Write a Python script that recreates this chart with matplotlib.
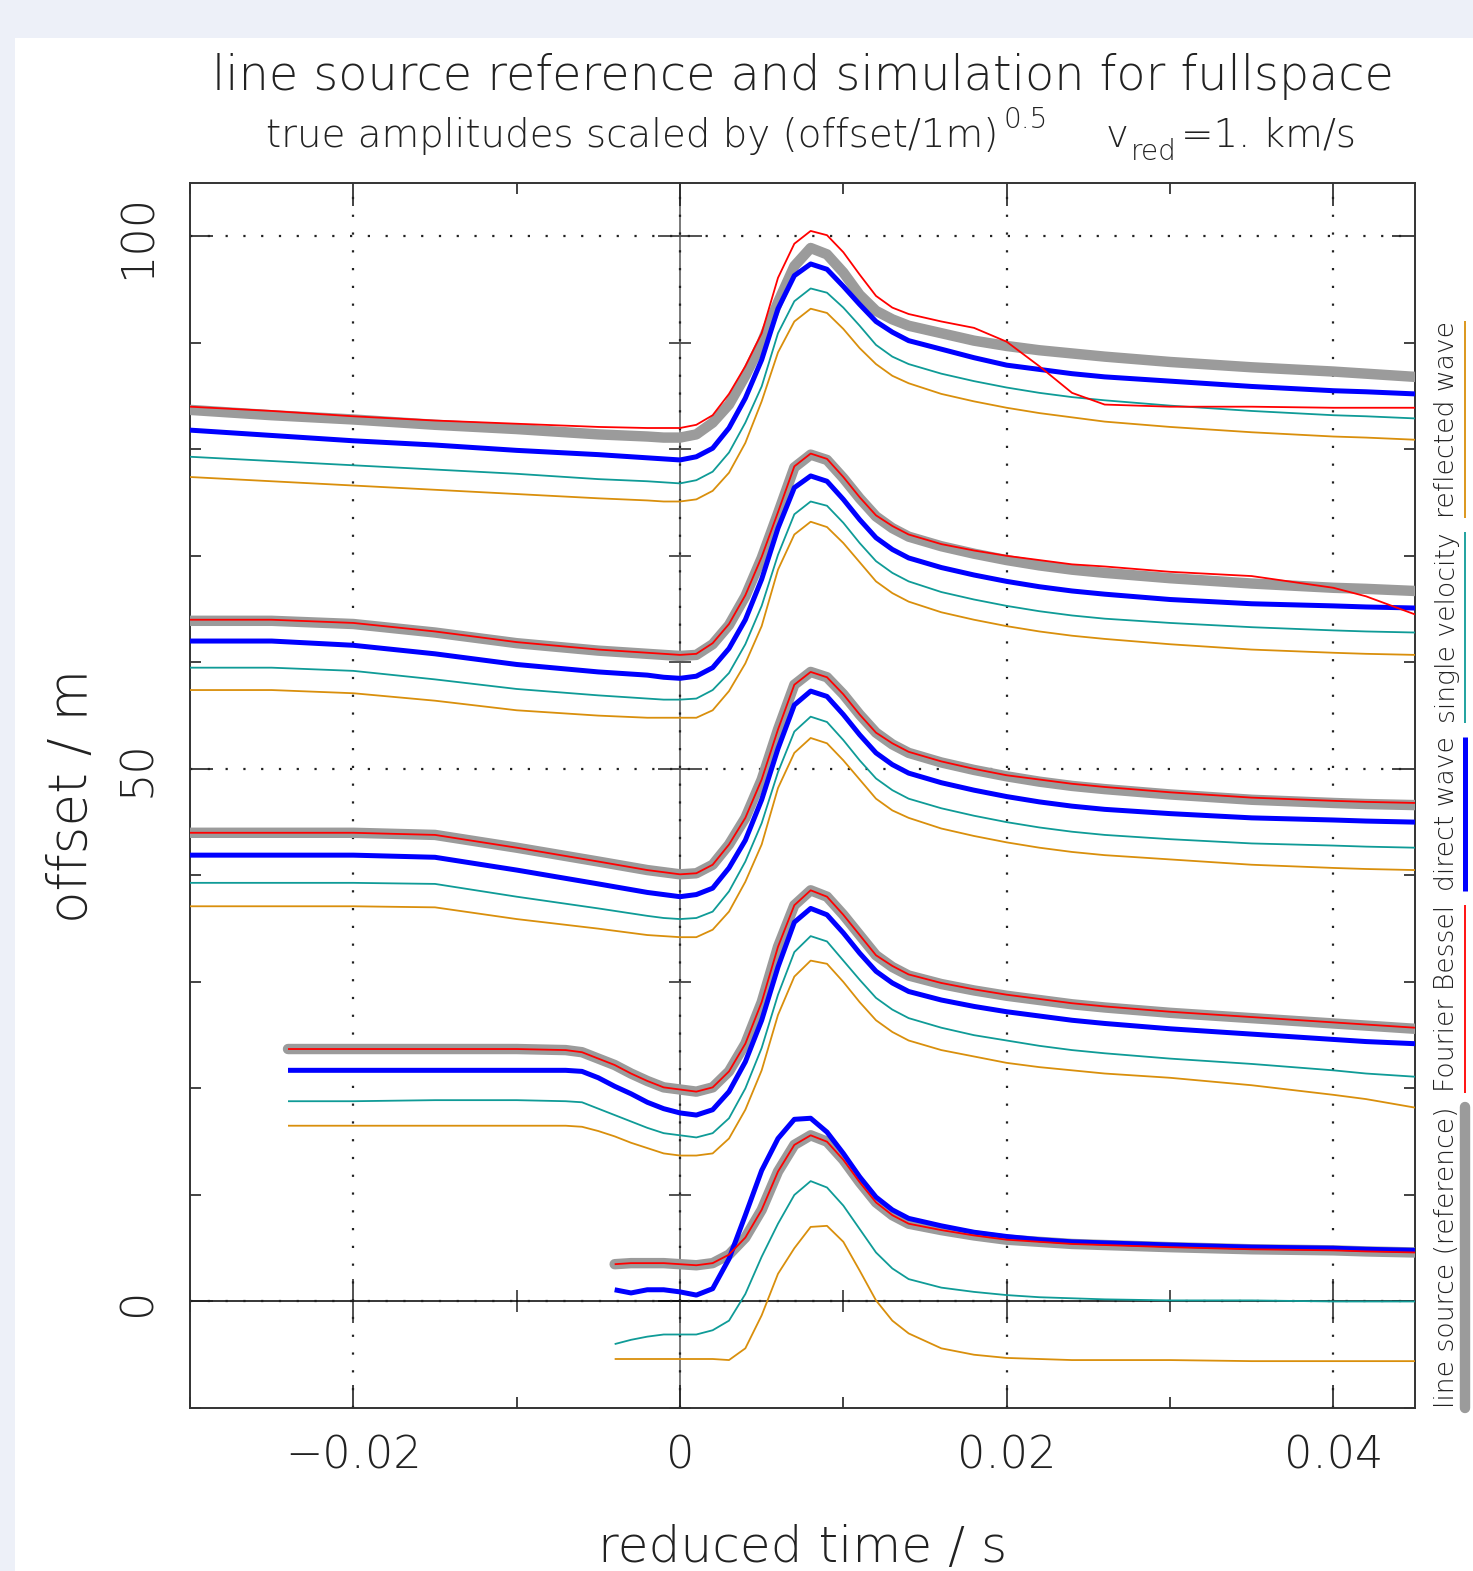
import os
import matplotlib
matplotlib.use('Agg')
import matplotlib.pyplot as plt
from matplotlib import font_manager as fm
from matplotlib.ticker import MultipleLocator, FixedLocator, FixedFormatter
from matplotlib.lines import Line2D
from matplotlib.patches import Rectangle

# ---------------- font choice: a thin, wide sans ----------------
def _has(pred):
    return any(pred(f) for f in fm.fontManager.ttflist)

def _base(f):
    return os.path.basename(f.fname)

if _has(lambda f: f.name == 'DejaVu Sans' and 'ExtraLight' in _base(f)):
    FAM, WGT = 'DejaVu Sans', 200
elif _has(lambda f: f.name == 'Open Sans' and 'Light' in _base(f) and 'Italic' not in _base(f)):
    FAM, WGT = 'Open Sans', 300
elif _has(lambda f: f.name == 'Roboto' and 'Light' in _base(f) and 'Italic' not in _base(f)):
    FAM, WGT = 'Roboto', 300
elif _has(lambda f: f.name == 'Lato' and 'Light' in _base(f) and 'Italic' not in _base(f)):
    FAM, WGT = 'Lato', 300
else:
    FAM, WGT = 'DejaVu Sans', 400

plt.rcParams['font.family'] = [FAM, 'DejaVu Sans']
plt.rcParams['font.weight'] = WGT
plt.rcParams['axes.labelweight'] = WGT
TXT = '#222222'

# ---------------- data ----------------
series_names = ['line source (reference)', 'Fourier Bessel', 'direct wave',
                'single velocity', 'reflected wave']

xticks = [-0.02, 0.0, 0.02, 0.04]
xticklabels = ['\u22120.02', '0', '0.02', '0.04']
yticks = [0, 50, 100]
yticklabels = ['0', '50', '100']

# time samples (s)
t_a = [-0.030, -0.025, -0.020, -0.015, -0.010, -0.005, -0.002, -0.001,
       0.000, 0.001, 0.002, 0.003, 0.004, 0.005, 0.006, 0.007, 0.008, 0.009,
       0.010, 0.011, 0.012, 0.013, 0.014,
       0.016, 0.018, 0.020, 0.022, 0.024, 0.026, 0.030, 0.035, 0.040, 0.042, 0.045]
t_4 = [-0.024, -0.020, -0.015, -0.010, -0.007, -0.006, -0.005, -0.004, -0.003, -0.002, -0.001,
       0.000, 0.001, 0.002, 0.003, 0.004, 0.005, 0.006, 0.007, 0.008, 0.009,
       0.010, 0.011, 0.012, 0.013, 0.014,
       0.016, 0.018, 0.020, 0.022, 0.024, 0.026, 0.030, 0.035, 0.040, 0.042, 0.045]
t_5 = [-0.004, -0.003, -0.002, -0.001,
       0.000, 0.001, 0.002, 0.003, 0.004, 0.005, 0.006, 0.007, 0.008, 0.009,
       0.010, 0.011, 0.012, 0.013, 0.014,
       0.016, 0.018, 0.020, 0.022, 0.024, 0.026, 0.030, 0.035, 0.040, 0.042, 0.045]

# trace 1
ref1 = [83.7, 83.2, 82.8, 82.3, 81.9, 81.4, 81.2, 81.1,
        81.1, 81.4, 82.5, 84.2, 86.9, 90.0, 93.8, 97.2, 98.9, 98.3, 96.6, 94.5, 93.0, 92.2, 91.6,
        90.9, 90.2, 89.7, 89.3, 89.0, 88.7, 88.2, 87.7, 87.3, 87.1, 86.8]
fb1 = [84.0, 83.6, 83.1, 82.7, 82.4, 82.1, 82.0, 82.0,
       82.0, 82.3, 83.2, 85.2, 87.8, 90.9, 96.1, 99.3, 100.5, 100.1, 98.5, 96.4, 94.4, 93.3, 92.7,
       92.0, 91.4, 90.1, 87.8, 85.3, 84.2, 84.0, 84.0, 83.9, 83.9, 83.9]
dw1 = [81.8, 81.3, 80.8, 80.4, 79.9, 79.5, 79.2, 79.1,
       79.0, 79.3, 80.1, 82.0, 84.8, 88.4, 93.2, 96.3, 97.4, 96.9, 95.3, 93.6, 92.0, 91.0, 90.2,
       89.4, 88.6, 87.9, 87.5, 87.1, 86.8, 86.4, 85.9, 85.5, 85.4, 85.2]
sv1 = [79.3, 78.9, 78.5, 78.1, 77.7, 77.2, 77.0, 76.9,
       76.8, 77.1, 77.9, 79.7, 82.5, 85.9, 90.9, 93.9, 95.1, 94.7, 93.3, 91.6, 89.8, 88.7, 88.0,
       87.1, 86.4, 85.8, 85.3, 84.9, 84.6, 84.1, 83.6, 83.2, 83.1, 82.9]
rw1 = [77.4, 77.0, 76.6, 76.2, 75.8, 75.4, 75.2, 75.1,
       75.1, 75.3, 76.1, 77.8, 80.6, 84.5, 89.1, 92.0, 93.2, 92.8, 91.3, 89.5, 88.0, 86.9, 86.2,
       85.2, 84.5, 83.9, 83.4, 83.0, 82.6, 82.1, 81.6, 81.2, 81.1, 80.9]

# trace 2
ref2 = [63.9, 63.9, 63.6, 62.8, 61.8, 61.1, 60.8, 60.7,
        60.6, 60.7, 61.7, 63.5, 66.2, 69.8, 74.0, 78.3, 79.5, 79.0, 77.3, 75.4, 73.7, 72.6, 71.8,
        70.9, 70.2, 69.6, 69.1, 68.7, 68.4, 67.9, 67.4, 67.0, 66.9, 66.7]
fb2 = [64.0, 64.0, 63.7, 62.9, 61.9, 61.2, 60.9, 60.8,
       60.7, 60.8, 61.8, 63.6, 66.3, 69.9, 74.1, 78.4, 79.6, 79.1, 77.4, 75.5, 73.8, 72.8, 72.0,
       71.1, 70.5, 70.0, 69.6, 69.2, 69.0, 68.5, 68.1, 67.0, 66.2, 64.5]
dw2 = [62.0, 62.0, 61.6, 60.8, 59.8, 59.1, 58.8, 58.6,
       58.5, 58.7, 59.5, 61.3, 64.0, 67.8, 72.6, 76.4, 77.5, 77.0, 75.3, 73.4, 71.7, 70.6, 69.8,
       68.9, 68.2, 67.6, 67.1, 66.7, 66.4, 65.9, 65.5, 65.3, 65.2, 65.1]
sv2 = [59.5, 59.5, 59.2, 58.4, 57.5, 56.9, 56.6, 56.5,
       56.5, 56.6, 57.4, 59.0, 61.7, 65.3, 70.1, 73.9, 75.1, 74.7, 73.1, 71.2, 69.5, 68.4, 67.6,
       66.6, 65.9, 65.3, 64.8, 64.4, 64.1, 63.7, 63.3, 63.0, 62.9, 62.8]
rw2 = [57.4, 57.4, 57.1, 56.4, 55.5, 55.0, 54.8, 54.8,
       54.8, 54.8, 55.5, 57.3, 59.9, 63.4, 68.7, 72.0, 73.2, 72.7, 71.2, 69.4, 67.6, 66.5, 65.7,
       64.7, 64.0, 63.4, 62.9, 62.5, 62.2, 61.7, 61.2, 60.9, 60.8, 60.7]

# trace 3
ref3 = [44.0, 44.0, 44.0, 43.8, 42.6, 41.3, 40.5, 40.3,
        40.1, 40.2, 41.0, 42.9, 45.4, 49.0, 53.7, 57.9, 59.1, 58.6, 57.0, 55.1, 53.4, 52.3, 51.5,
        50.6, 49.9, 49.3, 48.8, 48.4, 48.1, 47.6, 47.1, 46.8, 46.7, 46.6]
fb3 = [44.0, 44.0, 44.0, 43.8, 42.6, 41.3, 40.5, 40.3,
       40.1, 40.2, 41.0, 42.9, 45.4, 49.0, 53.7, 57.9, 59.1, 58.6, 57.0, 55.1, 53.4, 52.4, 51.6,
       50.7, 50.0, 49.4, 49.0, 48.6, 48.3, 47.8, 47.3, 47.0, 46.9, 46.8]
dw3 = [41.9, 41.9, 41.9, 41.7, 40.5, 39.2, 38.4, 38.2,
       38.0, 38.2, 38.8, 40.7, 43.3, 47.1, 51.9, 56.0, 57.3, 56.8, 55.1, 53.2, 51.5, 50.4, 49.6,
       48.7, 48.0, 47.4, 46.9, 46.5, 46.2, 45.8, 45.4, 45.2, 45.1, 45.0]
sv3 = [39.3, 39.3, 39.3, 39.2, 38.0, 36.9, 36.2, 36.0,
       35.9, 36.0, 36.6, 38.5, 41.3, 44.9, 49.7, 53.5, 54.9, 54.4, 52.7, 50.8, 49.1, 48.0, 47.2,
       46.3, 45.6, 45.0, 44.5, 44.1, 43.8, 43.4, 43.0, 42.8, 42.7, 42.6]
rw3 = [37.1, 37.1, 37.1, 37.0, 35.9, 35.0, 34.4, 34.3,
       34.2, 34.2, 34.9, 36.6, 39.4, 42.9, 48.2, 51.5, 52.9, 52.4, 50.8, 49.0, 47.2, 46.1, 45.4,
       44.4, 43.7, 43.1, 42.6, 42.2, 41.9, 41.5, 41.0, 40.7, 40.6, 40.5]

# trace 4
ref4 = [23.7, 23.7, 23.7, 23.7, 23.6, 23.4, 22.8, 22.2, 21.4, 20.7, 20.1,
        19.9, 19.7, 20.1, 21.6, 24.2, 28.1, 33.3, 37.2, 38.6, 38.0, 36.3, 34.4, 32.5, 31.4, 30.6,
        29.8, 29.2, 28.7, 28.3, 27.9, 27.6, 27.1, 26.6, 26.1, 25.9, 25.6]
fb4 = [23.7, 23.7, 23.7, 23.7, 23.6, 23.4, 22.8, 22.2, 21.4, 20.7, 20.1,
       19.9, 19.7, 20.1, 21.6, 24.2, 28.1, 33.3, 37.2, 38.6, 38.0, 36.3, 34.4, 32.5, 31.5, 30.7,
       29.9, 29.3, 28.8, 28.4, 28.0, 27.7, 27.2, 26.7, 26.2, 26.0, 25.7]
dw4 = [21.7, 21.7, 21.7, 21.7, 21.7, 21.6, 21.0, 20.2, 19.5, 18.7, 18.1,
       17.7, 17.5, 18.0, 19.7, 22.5, 26.4, 31.4, 35.6, 36.9, 36.3, 34.6, 32.7, 31.0, 29.9, 29.1,
       28.3, 27.7, 27.2, 26.8, 26.4, 26.1, 25.6, 25.1, 24.6, 24.4, 24.2]
sv4 = [18.8, 18.8, 18.9, 18.9, 18.8, 18.7, 18.1, 17.5, 16.9, 16.3, 15.8,
       15.6, 15.4, 15.8, 17.2, 20.0, 23.8, 28.8, 32.8, 34.3, 33.8, 32.0, 30.2, 28.5, 27.4, 26.6,
       25.7, 25.0, 24.5, 24.0, 23.6, 23.3, 22.8, 22.3, 21.7, 21.4, 21.1]
rw4 = [16.5, 16.5, 16.5, 16.5, 16.5, 16.4, 16.0, 15.5, 14.9, 14.4, 13.9,
       13.7, 13.7, 13.9, 15.3, 18.0, 21.7, 26.9, 30.5, 32.0, 31.7, 30.0, 28.1, 26.4, 25.3, 24.5,
       23.6, 23.0, 22.4, 22.0, 21.7, 21.4, 21.0, 20.3, 19.4, 19.0, 18.2]

# trace 5
ref5 = [3.5, 3.6, 3.6, 3.6,
        3.5, 3.4, 3.6, 4.4, 6.0, 8.6, 12.2, 14.7, 15.6, 15.0, 13.3, 11.2, 9.3, 8.1, 7.3,
        6.7, 6.2, 5.8, 5.6, 5.4, 5.3, 5.1, 4.9, 4.8, 4.7, 4.6]
fb5 = [3.5, 3.6, 3.6, 3.6,
       3.5, 3.4, 3.6, 4.4, 6.0, 8.6, 12.2, 14.7, 15.6, 15.0, 13.3, 11.2, 9.3, 8.1, 7.3,
       6.7, 6.2, 5.8, 5.6, 5.4, 5.3, 5.1, 4.9, 4.8, 4.7, 4.6]
dw5 = [1.1, 0.8, 1.1, 1.1,
       0.9, 0.6, 1.2, 4.0, 8.1, 12.3, 15.3, 17.1, 17.2, 15.9, 13.9, 11.7, 9.8, 8.6, 7.8,
       7.1, 6.5, 6.1, 5.8, 5.6, 5.5, 5.3, 5.1, 5.0, 4.9, 4.8]
sv5 = [-4.0, -3.6, -3.3, -3.1,
       -3.1, -3.1, -2.7, -1.8, 0.7, 4.2, 7.3, 10.0, 11.3, 10.7, 9.0, 6.8, 4.6, 3.1, 2.1,
       1.3, 0.9, 0.6, 0.4, 0.3, 0.2, 0.1, 0.1, 0.0, 0.0, 0.0]
rw5 = [-5.4, -5.4, -5.4, -5.4,
       -5.4, -5.4, -5.4, -5.5, -4.4, -1.3, 2.6, 5.0, 7.0, 7.1, 5.6, 2.9, 0.1, -1.8, -3.0,
       -4.4, -5.0, -5.3, -5.4, -5.5, -5.5, -5.5, -5.6, -5.6, -5.6, -5.6]

traces = [
    (t_a, [ref1, fb1, dw1, sv1, rw1]),
    (t_a, [ref2, fb2, dw2, sv2, rw2]),
    (t_a, [ref3, fb3, dw3, sv3, rw3]),
    (t_4, [ref4, fb4, dw4, sv4, rw4]),
    (t_5, [ref5, fb5, dw5, sv5, rw5]),
]

# ---------------- style ----------------
colors = ['#9b9b9b', '#ff0000', '#0000ff', '#0f9b97', '#d98f0c']
widths = [7.5, 1.3, 3.6, 1.3, 1.3]
zorders = [3, 7, 6, 5, 4]

W, H = 1473, 1571
fig = plt.figure(figsize=(W / 100, H / 100), dpi=100)
fig.patch.set_facecolor('#edf0f8')
fig.add_artist(Rectangle((15 / W, 0), 1 - 15 / W, (H - 38) / H, transform=fig.transFigure,
                         facecolor='white', edgecolor='none', zorder=-10))

pos = [190 / W, (H - 1408) / H, (1415 - 190) / W, (1408 - 183) / H]
xlim = (-0.030, 0.045)
ylim = (-10.0, 105.0)

# axes carrying the zero lines (drawn below the data)
ax0 = fig.add_axes(pos, zorder=0)
ax0.set_facecolor('white')
ax0.set_xlim(xlim)
ax0.set_ylim(ylim)
for s in ['top', 'right']:
    ax0.spines[s].set_visible(False)
ax0.spines['left'].set_position(('data', 0))
ax0.spines['bottom'].set_position(('data', 0))
ax0.spines['left'].set_color('#555555')
ax0.spines['bottom'].set_color('black')
ax0.spines['left'].set_linewidth(1.1)
ax0.spines['bottom'].set_linewidth(1.1)
ax0.xaxis.set_major_locator(FixedLocator(xticks))
ax0.xaxis.set_minor_locator(MultipleLocator(0.01))
ax0.yaxis.set_major_locator(FixedLocator(yticks))
ax0.yaxis.set_minor_locator(MultipleLocator(10))
ax0.tick_params(which='both', direction='inout', labelleft=False, labelbottom=False,
                colors='#222222', width=1.1)
ax0.tick_params(which='major', length=31)
ax0.tick_params(which='minor', length=16)

ax = fig.add_axes(pos, zorder=1)
ax.set_facecolor('none')
for tt, curves in traces:
    for k, vals in enumerate(curves):
        ax.plot(tt, vals, color=colors[k], lw=widths[k], zorder=zorders[k],
                solid_capstyle='round' if k == 0 else 'butt', solid_joinstyle='round')

ax.set_xlim(xlim)
ax.set_ylim(ylim)
ax.xaxis.set_major_locator(FixedLocator(xticks))
ax.xaxis.set_major_formatter(FixedFormatter(xticklabels))
ax.xaxis.set_minor_locator(MultipleLocator(0.01))
ax.yaxis.set_major_locator(FixedLocator(yticks))
ax.yaxis.set_major_formatter(FixedFormatter(yticklabels))
ax.yaxis.set_minor_locator(MultipleLocator(10))
ax.tick_params(which='both', direction='in', top=True, right=True, width=1.2,
               colors='#222222', labelsize=32, labelcolor=TXT)
ax.tick_params(which='major', length=16.5)
ax.tick_params(which='minor', length=8)
ax.tick_params(axis='x', pad=19)
ax.tick_params(axis='y', pad=22)
for lab in ax.get_yticklabels():
    lab.set_rotation(90)
    lab.set_va('center')
for s in ax.spines.values():
    s.set_linewidth(1.4)
    s.set_color('#333333')
ax.grid(True, which='major', color='#222222', linestyle=(0, (1, 7)), linewidth=1.6)

xl = ax.set_xlabel('reduced time / s', fontsize=34, color=TXT, va='center')
ax.xaxis.set_label_coords(0.5, -(1548 - 1408) / (1408 - 183))
yl = ax.set_ylabel('offset / m', fontsize=34, color=TXT, va='center')
ax.yaxis.set_label_coords(-(190 - 72) / (1415 - 190), 0.5)

fig.canvas.draw()
renderer = fig.canvas.get_renderer()


def fit_width(txt, target_px, vertical=False):
    bb = txt.get_window_extent(renderer)
    cur = bb.height if vertical else bb.width
    txt.set_fontsize(txt.get_fontsize() * target_px / cur)


fit_width(xl, 410)
fit_width(yl, 254, vertical=True)

# title
cx = 803.0
title = fig.text(cx / W, (H - 90) / H, 'line source reference and simulation for fullspace',
                 ha='center', va='baseline', fontsize=34, color=TXT)
fit_width(title, 1184)

# subtitle with superscript and subscript, laid out piece by piece
sub_pieces = [
    ('true amplitudes scaled by (offset/1m)', 1.0, 147, 0),
    ('0.5', 0.72, 128, 5),
    ('v', 1.0, 147, 58),
    ('red', 0.72, 160, 2),
    ('=1. km/s', 1.0, 147, 4),
]
main = fig.text(0, 0, sub_pieces[0][0], fontsize=28)
fit_width(main, 732)
base_fs = main.get_fontsize()
main.remove()
objs = []
x_px = 0.0
for s, scale, ybase, gap in sub_pieces:
    x_px += gap
    o = fig.text(x_px / W, (H - ybase) / H, s, ha='left', va='baseline',
                 fontsize=base_fs * scale, color=TXT)
    bb = o.get_window_extent(renderer)
    x_px += bb.width
    objs.append((o, x_px - bb.width))
shift = 811.0 - x_px / 2.0
for o, x0 in objs:
    o.set_x((x0 + shift) / W)

# ---------------- vertical legend on the right ----------------
leg_fs = 20.0
probe = [fig.text(0, 0, n, rotation=90, fontsize=leg_fs) for n in series_names]
tot = sum(p.get_window_extent(renderer).height for p in probe)
for p in probe:
    p.remove()
gap_px = 14.0
leg_fs = leg_fs * (1408 - 320 - gap_px * (len(series_names) - 1)) / tot

y_px = 1408.0
text_x = 1447.0
line_x = 1465.0
for k, name in enumerate(series_names):
    txt = fig.text(text_x / W, (H - y_px) / H, name, rotation=90, ha='center', va='bottom',
                   fontsize=leg_fs, color=TXT)
    bb = txt.get_window_extent(renderer)
    y0 = bb.y0 * 100 / fig.dpi
    y1 = bb.y1 * 100 / fig.dpi
    fig.add_artist(Line2D([line_x / W, line_x / W], [y0 / H, y1 / H], transform=fig.transFigure,
                          color=colors[k], lw=widths[k],
                          solid_capstyle='round' if k == 0 else 'butt'))
    y_px = H - y1 - gap_px

fig.savefig('out.png', dpi=100, facecolor=fig.get_facecolor())
